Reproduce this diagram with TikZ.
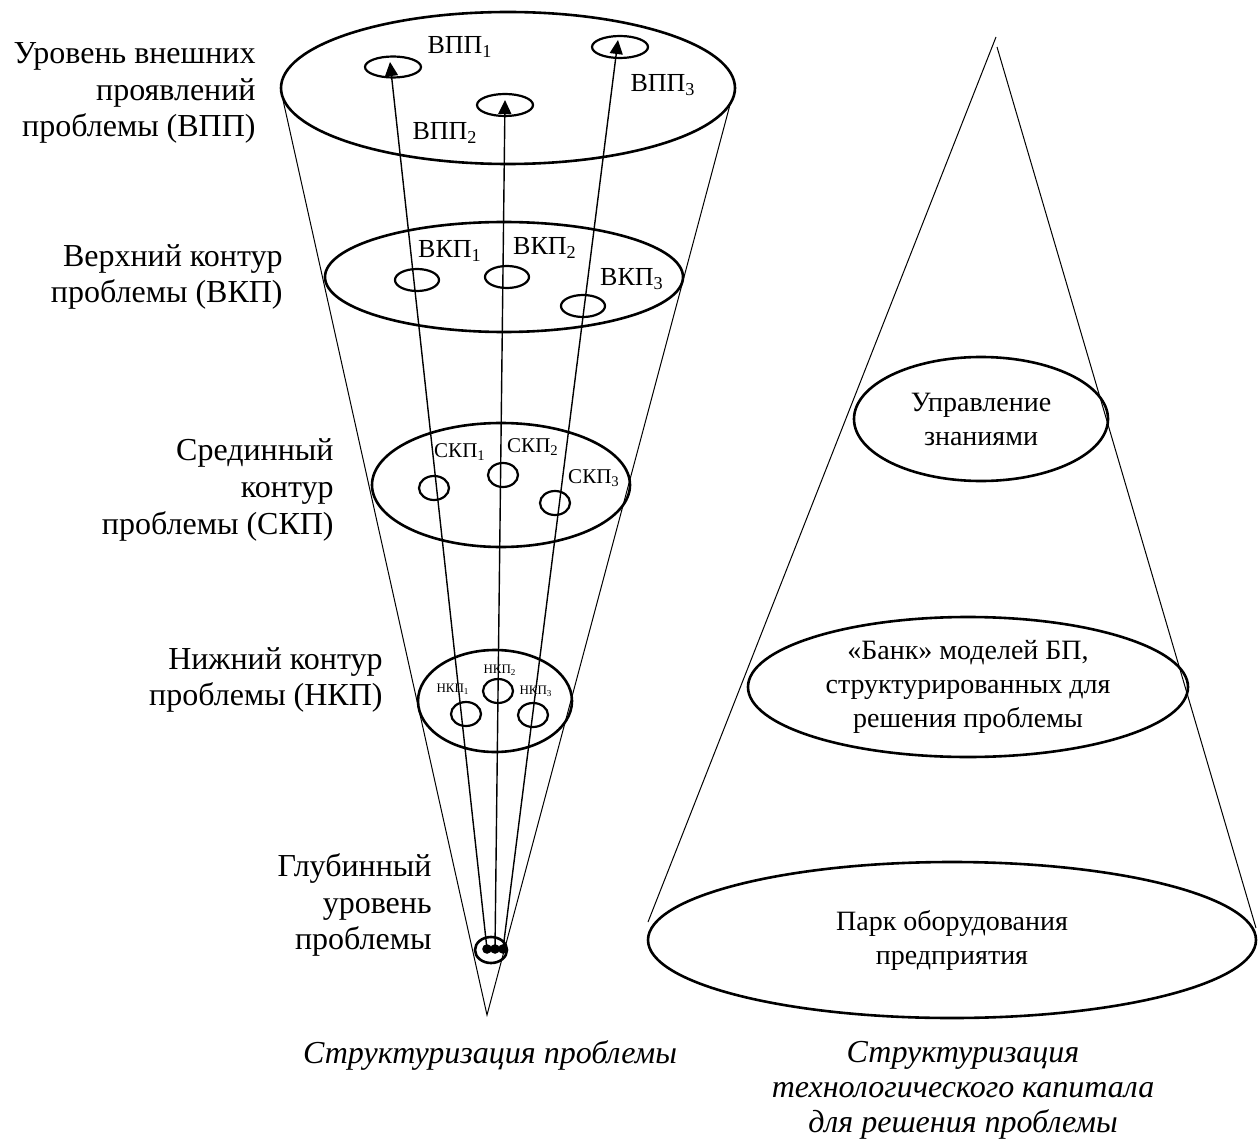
\documentclass[tikz,border=0pt]{standalone}
\usepackage{fontspec}
\setmainfont{Liberation Serif}
\usetikzlibrary{positioning, shapes.geometric, arrows.meta}

\begin{document}
\begin{tikzpicture}[
  x=0.5pt, y=-0.5pt,
  tier/.style={ellipse, draw, line width=1.3pt, inner sep=0pt},
  spot/.style={ellipse, draw, line width=1.1pt, inner sep=0pt},
  dot/.style={circle, fill, inner sep=0pt, minimum size=4.8pt},
  cone/.style={draw, line width=0.5pt},
  ray/.style={draw, line width=0.7pt, -{Triangle[length=7pt, width=6.5pt]}},
  sidetext/.style={anchor=east, align=right, inner sep=0pt, font=\fontsize{16}{18.4}\selectfont},
  conetext/.style={align=center, font=\fontsize{14}{17}\selectfont},
  capt/.style={align=center, inner sep=0pt, font=\fontsize{16}{17.5}\selectfont\itshape}
]
\useasboundingbox (0,0) rectangle (1258,1139);

% === УРОВНИ ПРОБЛЕМЫ ===
\node[tier, minimum width=227pt, minimum height=76pt] (vpp) at (508,88) {};
\node[tier, minimum width=179pt, minimum height=55pt] (vkp) at (504,277) {};
\node[tier, minimum width=129pt, minimum height=62pt] (skp) at (501,485) {};
\node[tier, minimum width=77pt, minimum height=51pt] (nkp) at (495,701) {};
\node[tier, minimum width=16pt, minimum height=13pt] (glub) at (491,950) {};

% === КОНУС ПРОБЛЕМЫ ===
\coordinate (apexL) at (487,1015);
\coordinate (vppL) at (283,100);
\coordinate (vppR) at (731,101);
\draw[cone] (vppL) -- (apexL) -- (vppR);

% === ПОДПИСИ СЛЕВА ===
\node[sidetext] (txtVPP) at (256,93) {Уровень внешних\\проявлений\\проблемы (ВПП)};
\node[sidetext] (txtVKP) at (283,277) {Верхний контур\\проблемы (ВКП)};
\node[sidetext] (txtSKP) at (334,490) {Срединный\\контур\\проблемы (СКП)};
\node[sidetext] (txtNKP) at (383,680) {Нижний контур\\проблемы (НКП)};
\node[sidetext] (txtGL) at (432,905) {Глубинный\\уровень\\проблемы};

% === ВПП ===
\node[spot, minimum width=28pt, minimum height=10.5pt] (vpp1) at (393,67) {};
\node[spot, minimum width=28pt, minimum height=11pt] (vpp2) at (505,105) {};
\node[spot, minimum width=28pt, minimum height=11pt] (vpp3) at (620,47) {};
\node[font=\fontsize{13}{15}\selectfont] at (460,47) {ВПП\textsubscript{1}};
\node[font=\fontsize{13}{15}\selectfont] at (445,133) {ВПП\textsubscript{2}};
\node[font=\fontsize{13}{15}\selectfont] at (663,85) {ВПП\textsubscript{3}};

% === ВКП ===
\node[spot, minimum width=22pt, minimum height=11pt] (vkp1) at (417,280) {};
\node[spot, minimum width=22pt, minimum height=11pt] (vkp2) at (507,277) {};
\node[spot, minimum width=22pt, minimum height=11pt] (vkp3) at (583,306) {};
\node[font=\fontsize{13}{15}\selectfont] at (450,251) {ВКП\textsubscript{1}};
\node[font=\fontsize{13}{15}\selectfont] at (545,248) {ВКП\textsubscript{2}};
\node[font=\fontsize{13}{15}\selectfont] at (632,279) {ВКП\textsubscript{3}};

% === СКП ===
\node[spot, minimum width=15pt, minimum height=12pt] (skp1) at (434,488) {};
\node[spot, minimum width=15pt, minimum height=12pt] (skp2) at (503,475) {};
\node[spot, minimum width=15pt, minimum height=12pt] (skp3) at (555,503) {};
\node[font=\fontsize{10.5}{12}\selectfont] at (460,452) {СКП\textsubscript{1}};
\node[font=\fontsize{10.5}{12}\selectfont] at (533,447) {СКП\textsubscript{2}};
\node[font=\fontsize{10.5}{12}\selectfont] at (594,478) {СКП\textsubscript{3}};

% === НКП ===
\node[spot, minimum width=15pt, minimum height=12pt] (nkp1) at (466,714) {};
\node[spot, minimum width=15pt, minimum height=12pt] (nkp2) at (498,691) {};
\node[spot, minimum width=15pt, minimum height=12pt] (nkp3) at (533,715) {};
\node[font=\fontsize{6.5}{8}\selectfont] at (453,689) {НКП\textsubscript{1}};
\node[font=\fontsize{6.5}{8}\selectfont] at (500,670) {НКП\textsubscript{2}};
\node[font=\fontsize{6.5}{8}\selectfont] at (536,691) {НКП\textsubscript{3}};

% === СТРЕЛКИ ===
\node[dot] (d1) at (487,949) {};
\node[dot] (d2) at (495,949) {};
\node[dot] (d3) at (503,949) {};
\coordinate (t1) at (390,62);
\coordinate (t2) at (505,100);
\coordinate (t3) at (618,40);
\draw[ray] (d1.center) -- (t1);
\draw[ray] (d2.center) -- (t2);
\draw[ray] (d3.center) -- (t3);

% === КОНУС КАПИТАЛА ===
\coordinate (apexR) at (996,37);
\coordinate (apexR2) at (997,47);
\coordinate (baseL) at (648,922);
\coordinate (baseR) at (1256,928);
\draw[cone] (apexR) -- (baseL);
\draw[cone] (apexR2) -- (baseR);

\node[tier, conetext, minimum width=127pt, minimum height=62pt] (upr) at (981,419) {Управление\\знаниями};
\node[tier, conetext, minimum width=220pt, minimum height=70pt] (bank) at (968,687) {«Банк» моделей БП,\\структурированных для\\решения проблемы};
\node[tier, conetext, minimum width=304pt, minimum height=78pt] (park) at (952,940) {Парк оборудования\\предприятия};

% === ПОДПИСИ ВНИЗУ ===
\node[capt] (capL) at (490,1055) {Структуризация проблемы};
\node[capt] (capR) at (963,1090) {Структуризация\\технологического капитала\\для решения проблемы};

\end{tikzpicture}
\end{document}
